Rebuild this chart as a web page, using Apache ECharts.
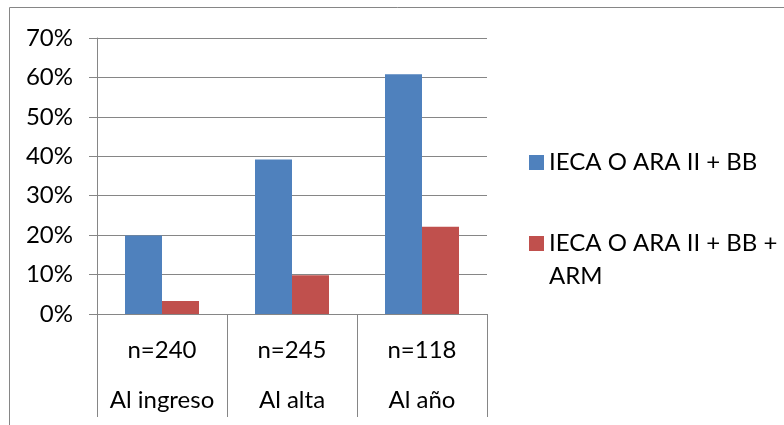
<!DOCTYPE html>
<html>
<head>
<meta charset="utf-8">
<script src="https://cdn.jsdelivr.net/npm/echarts@6/dist/echarts.min.js"></script>
<style>
  html, body { margin: 0; padding: 0; background: #fff; }
  #chart { width: 784px; height: 425px; }
</style>
</head>
<body>
<div id="chart"></div>
<script>
// Time points and sample sizes shown on the two-row category axis
const periods = ['Al ingreso', 'Al alta', 'Al año'];
const sampleSizes = ['n=240', 'n=245', 'n=118'];

// Percentage of patients on each treatment combination
const seriesNames = ['IECA O ARA II + BB', 'IECA O ARA II + BB + ARM'];
const ieecaBb = [19.9, 39.2, 60.8];
const ieecaBbArm = [3.3, 9.8, 22.1];

// Y axis scale (percent)
const yMin = 0, yMax = 70, yStep = 10;

const FONT = 'Lato';
const FS = 24;
const GRAY = '#868686';

const chart = echarts.init(document.getElementById('chart'), null, { renderer: 'canvas' });

chart.setOption({
  animation: false,
  backgroundColor: '#ffffff',
  textStyle: { fontFamily: FONT, color: '#000' },
  graphic: [{
    type: 'rect',
    shape: { x: 9.5, y: 7.5, width: 820, height: 460 },
    style: { fill: 'none', stroke: GRAY, lineWidth: 1 },
    silent: true, z: 0
  }],
  grid: { left: 97, right: 297, top: 38, bottom: 111 },
  legend: [{
    left: 524, top: 141,
    itemWidth: 15, itemHeight: 15, itemGap: 0,
    icon: 'rect',
    data: [seriesNames[0]],
    textStyle: { fontFamily: FONT, fontSize: FS, color: '#000', lineHeight: 33 }
  }, {
    // the empty first row keeps the swatch level with the first text row
    left: 524, top: 189,
    itemWidth: 15, itemHeight: 15, itemGap: 0,
    icon: 'rect',
    data: [seriesNames[1]],
    formatter: () => '{p| }\n{t|IECA O ARA II + BB +}\n{t|ARM}',
    textStyle: {
      fontFamily: FONT, fontSize: FS, color: '#000', lineHeight: 33,
      rich: {
        p: { fontSize: FS, lineHeight: 33 },
        t: { fontFamily: FONT, fontSize: FS, color: '#000', lineHeight: 33 }
      }
    }
  }],
  xAxis: {
    type: 'category',
    data: periods,
    axisLine: { show: true, lineStyle: { color: GRAY, width: 1 } },
    axisTick: { show: true, length: 103, alignWithLabel: false, lineStyle: { color: GRAY, width: 1 } },
    axisLabel: {
      interval: 0,
      margin: 11,
      formatter: (v, i) => '{n|' + sampleSizes[i] + '}\n{c|' + v + '}',
      rich: {
        n: { fontFamily: FONT, fontSize: FS, color: '#000', lineHeight: 50 },
        c: { fontFamily: FONT, fontSize: FS, color: '#000', lineHeight: 50 }
      }
    },
    splitLine: { show: false }
  },
  yAxis: {
    type: 'value',
    min: yMin, max: yMax, interval: yStep,
    axisLine: { show: true, lineStyle: { color: GRAY, width: 1 } },
    axisTick: { show: true, length: 8, lineStyle: { color: GRAY, width: 1 } },
    axisLabel: {
      margin: 24,
      fontFamily: FONT, fontSize: FS, color: '#000',
      formatter: v => v + '%'
    },
    splitLine: { show: true, lineStyle: { color: GRAY, width: 1 } }
  },
  series: [{
    name: seriesNames[0],
    type: 'bar',
    data: ieecaBb,
    barWidth: 37,
    barGap: '0%',
    itemStyle: { color: '#4F81BD' }
  }, {
    name: seriesNames[1],
    type: 'bar',
    data: ieecaBbArm,
    barWidth: 37,
    barGap: '0%',
    itemStyle: { color: '#C0504D' }
  }]
});
</script>
</body>
</html>
